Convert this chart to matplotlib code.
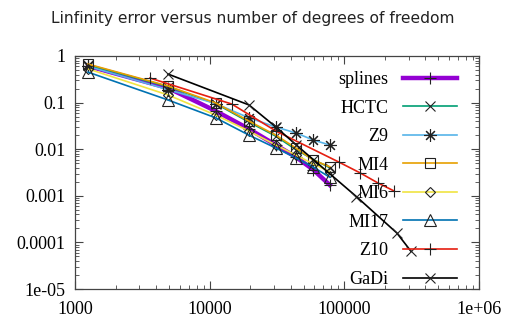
import matplotlib
matplotlib.use("Agg")
import matplotlib.pyplot as plt
from matplotlib.ticker import FixedLocator, FixedFormatter, LogLocator, NullFormatter

# ---- data ----
dofs = [1250, 4900, 11100, 19600, 31000, 43700, 59000, 78000]
err_splines = [0.61, 0.206, 0.066, 0.0271, 0.0123, 0.0068, 0.0036, 0.0017]
err_hctc = [0.64, 0.22, 0.095, 0.038, 0.019, 0.0098, 0.0060, 0.0040]
err_z9 = [0.60, 0.19, 0.095, 0.047, 0.030, 0.0223, 0.0157, 0.0123]
err_mi4 = [0.67, 0.227, 0.098, 0.040, 0.020, 0.0106, 0.0058, 0.0042]
err_mi6 = [0.53, 0.146, 0.054, 0.0245, 0.0123, 0.0075, 0.0048, 0.0033]
err_mi17 = [0.45, 0.114, 0.047, 0.020, 0.0106, 0.0065, 0.0041, 0.0025]

dofs_z10 = [3600, 14600, 31000, 91000, 131000, 178000, 234000]
err_z10 = [0.337, 0.093, 0.0246, 0.0053, 0.0031, 0.00188, 0.00127]

dofs_gadi = [4900, 19600, 31000, 44000, 123000, 245000, 312000]
err_gadi = [0.41, 0.089, 0.030, 0.0123, 0.00096, 0.00016, 6.5e-5]

labels = ["splines", "HCTC", "Z9", "MI4", "MI6", "MI17", "Z10", "GaDi"]
colors = ["#9400D3", "#009E73", "#56B4E9", "#E69F00", "#F0E442", "#0072B2", "#E51E10", "#000000"]

xticks = [1e3, 1e4, 1e5, 1e6]
xticklabels = ["1000", "10000", "100000", "1e+06"]
yticks = [1e-5, 1e-4, 1e-3, 1e-2, 1e-1, 1]
yticklabels = ["1e-05", "0.0001", "0.001", "0.01", "0.1", "1"]

title = "Linfinity error versus number of degrees of freedom"

# ---- figure ----
W, H = 506, 323
fig = plt.figure(figsize=(W / 100, H / 100), dpi=100)
ax = fig.add_axes([75 / W, 1 - 289 / H, (479 - 75) / W, (289 - 56) / H])

serif = ["Liberation Serif", "DejaVu Serif"]

series = [
    (dofs, err_splines, dict(marker="+", ms=9, lw=3.2)),
    (dofs, err_hctc, dict(marker="x", ms=7, lw=1.2)),
    (dofs, err_z9, dict(marker=(8, 2, 0), ms=9, lw=1.2)),
    (dofs, err_mi4, dict(marker="s", ms=7, lw=1.2, mfc="none")),
    (dofs, err_mi6, dict(marker="D", ms=5.5, lw=1.2, mfc="none")),
    (dofs, err_mi17, dict(marker="^", ms=8, lw=1.2, mfc="none")),
    (dofs_z10, err_z10, dict(marker="+", ms=9, lw=1.2)),
    (dofs_gadi, err_gadi, dict(marker="x", ms=7, lw=1.2)),
]
for (x, y, kw), lab, c in zip(series, labels, colors):
    ax.plot(x, y, color=c, mec="#222222", mew=0.8, label=lab, **kw)

ax.set_xscale("log")
ax.set_yscale("log")
ax.set_xlim(1e3, 1e6)
ax.set_ylim(1e-5, 1)

ax.xaxis.set_major_locator(FixedLocator(xticks))
ax.xaxis.set_major_formatter(FixedFormatter(xticklabels))
ax.yaxis.set_major_locator(FixedLocator(yticks))
ax.yaxis.set_major_formatter(FixedFormatter(yticklabels))
ax.xaxis.set_minor_locator(LogLocator(base=10, subs=range(2, 10)))
ax.yaxis.set_minor_locator(LogLocator(base=10, subs=range(2, 10)))
ax.xaxis.set_minor_formatter(NullFormatter())
ax.yaxis.set_minor_formatter(NullFormatter())

ax.tick_params(which="both", direction="in", top=True, right=True, color="#444444")
ax.tick_params(which="major", length=6, width=0.8)
ax.tick_params(which="minor", length=3, width=0.6)
ax.tick_params(axis="x", which="major", pad=9)
ax.tick_params(axis="y", which="major", pad=7)
for lbl in ax.get_xticklabels() + ax.get_yticklabels():
    lbl.set_family(serif)
    lbl.set_fontsize(13)
for s in ax.spines.values():
    s.set_color("#444444")
    s.set_linewidth(0.9)

leg = ax.legend(loc="upper right", bbox_to_anchor=(457 / W, 1 - 71 / H),
                bbox_transform=fig.transFigure, frameon=False, markerfirst=False,
                prop={"family": serif, "size": 13}, handlelength=3.0,
                handletextpad=0.8, labelspacing=0.64, borderpad=0, borderaxespad=0)

fig.text(0.5, 1 - 18 / H, title, ha="center", va="center", fontsize=11.2,
         family="DejaVu Sans", color="#222222")

fig.savefig("out.png", dpi=100)
